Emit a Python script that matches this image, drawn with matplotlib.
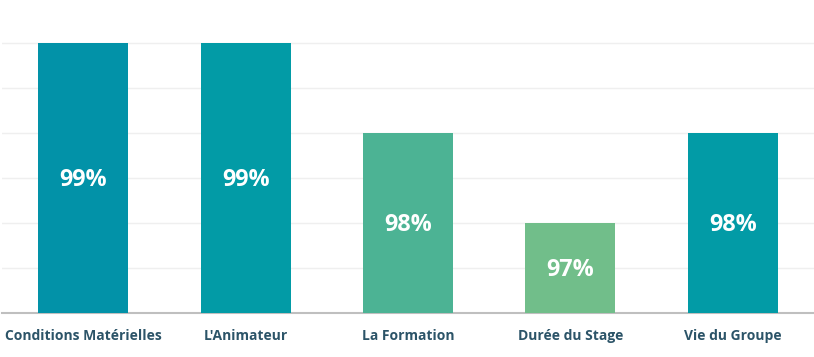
import matplotlib
matplotlib.use("Agg")
import matplotlib.pyplot as plt
import numpy as np

categories = ["Conditions Matérielles", "L'Animateur", "La Formation",
              "Durée du Stage", "Vie du Groupe"]
values = [99, 99, 98, 97, 98]
colors = ["#0292A8", "#029BA6", "#4CB394", "#71BE8A", "#029BA6"]

plt.rcParams['font.family'] = ['Open Sans', 'DejaVu Sans']

fig = plt.figure(figsize=(8.14, 3.57), dpi=100)
ax = fig.add_axes([2 / 814, 44 / 357, 812 / 814, 313 / 357])

ymin = 96
ymax = ymin + 313 / 90
x = np.arange(len(categories))
ax.bar(x, [v - ymin for v in values], bottom=ymin, width=0.555,
       color=colors, zorder=3)

for xi, v in zip(x, values):
    ax.text(xi, (ymin + v) / 2 - 0.025, f"{v}%", ha='center', va='center',
            color='white', fontsize=16.8, fontweight='bold', zorder=4)

ax.set_xlim(-0.5, len(categories) - 0.5)
ax.set_ylim(ymin, ymax)
ax.set_yticks(np.arange(96.5, 99.5, 0.5))
ax.yaxis.grid(True, color='#EFEFEF', linewidth=1, zorder=0)
ax.tick_params(axis='y', left=False, labelleft=False)
ax.tick_params(axis='x', bottom=False, pad=8)
ax.set_xticks(x)
ax.set_xticklabels(categories, fontsize=10, fontweight='bold', color='#2C5468')

for s in ['top', 'right', 'left']:
    ax.spines[s].set_visible(False)
ax.spines['bottom'].set_color('#BFBFBF')
ax.spines['bottom'].set_linewidth(1.5)

fig.savefig("out.png", dpi=100)
